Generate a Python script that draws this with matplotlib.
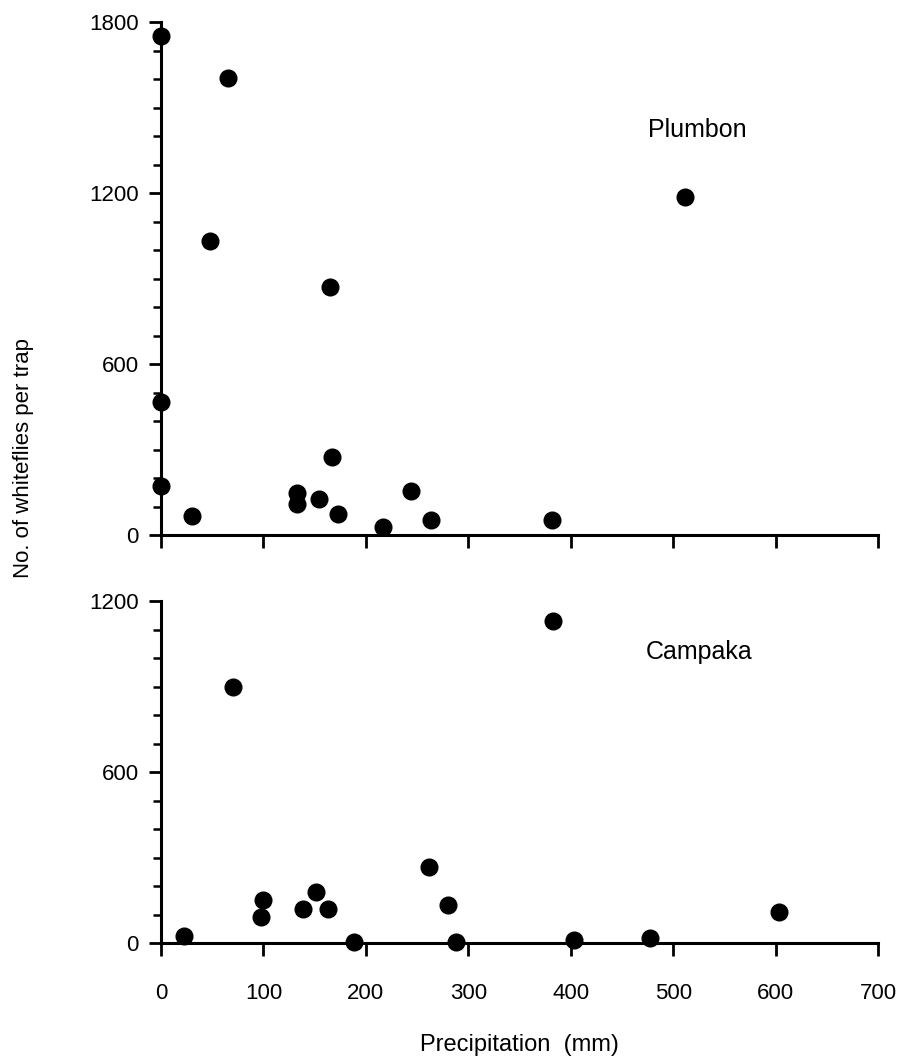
import matplotlib
matplotlib.use("Agg")
import matplotlib.pyplot as plt
import numpy as np
from matplotlib.ticker import MultipleLocator

plt.rcParams["font.family"] = ["Liberation Sans", "DejaVu Sans"]

# Plumbon (top panel)
plumbon_precip = [0, 65, 48, 165, 0, 0, 30, 133, 133, 154, 167, 173, 217, 244, 264, 382, 512]
plumbon_flies = [1750, 1605, 1030, 870, 465, 172, 67, 147, 109, 126, 274, 74, 28, 154, 53, 52, 1185]

# Campaka (bottom panel)
campaka_precip = [70, 383, 262, 280, 151, 100, 98, 139, 163, 188, 288, 403, 477, 603, 22]
campaka_flies = [900, 1130, 267, 133, 180, 150, 92, 119, 119, 5, 5, 10, 18, 108, 25]

W, H = 907, 1057
fig = plt.figure(figsize=(W / 100, H / 100), dpi=100)

left = 161 / W
width = (878 - 161) / W
ax1 = fig.add_axes([left, 1 - 535 / H, width, (535 - 22) / H])
ax2 = fig.add_axes([left, 1 - 943 / H, width, (943 - 601) / H])


def style(ax, ymax, show_xlabels):
    ax.set_xlim(0, 700)
    ax.set_ylim(0, ymax)
    for s in ["top", "right"]:
        ax.spines[s].set_visible(False)
    for s in ["left", "bottom"]:
        ax.spines[s].set_linewidth(2.2)
    ax.xaxis.set_major_locator(MultipleLocator(100))
    ax.yaxis.set_major_locator(MultipleLocator(600))
    ax.yaxis.set_minor_locator(MultipleLocator(100))
    ax.tick_params(axis="both", which="major", direction="out", length=9, width=2,
                   labelsize=16, pad=7)
    ax.tick_params(axis="y", which="minor", direction="out", length=6, width=1.8)
    if not show_xlabels:
        ax.tick_params(axis="x", labelbottom=False)
    else:
        ax.tick_params(axis="x", pad=20)


style(ax1, 1800, False)
style(ax2, 1200, True)

ax1.plot(plumbon_precip, plumbon_flies, "o", color="black", markersize=12, clip_on=False)
ax2.plot(campaka_precip, campaka_flies, "o", color="black", markersize=12, clip_on=False)

ax1.text(475, 1420, "Plumbon", fontsize=18, va="center", ha="left")
ax2.text(473, 1021, "Campaka", fontsize=18, va="center", ha="left")

fig.text(24 / W, 1 - 458 / H, "No. of whiteflies per trap", rotation=90,
         fontsize=16, ha="center", va="center")
fig.text((161 + 878) / 2 / W, 1 - 1045 / H, "Precipitation  (mm)",
         fontsize=17, ha="center", va="center")

fig.savefig("out.png", dpi=100)
